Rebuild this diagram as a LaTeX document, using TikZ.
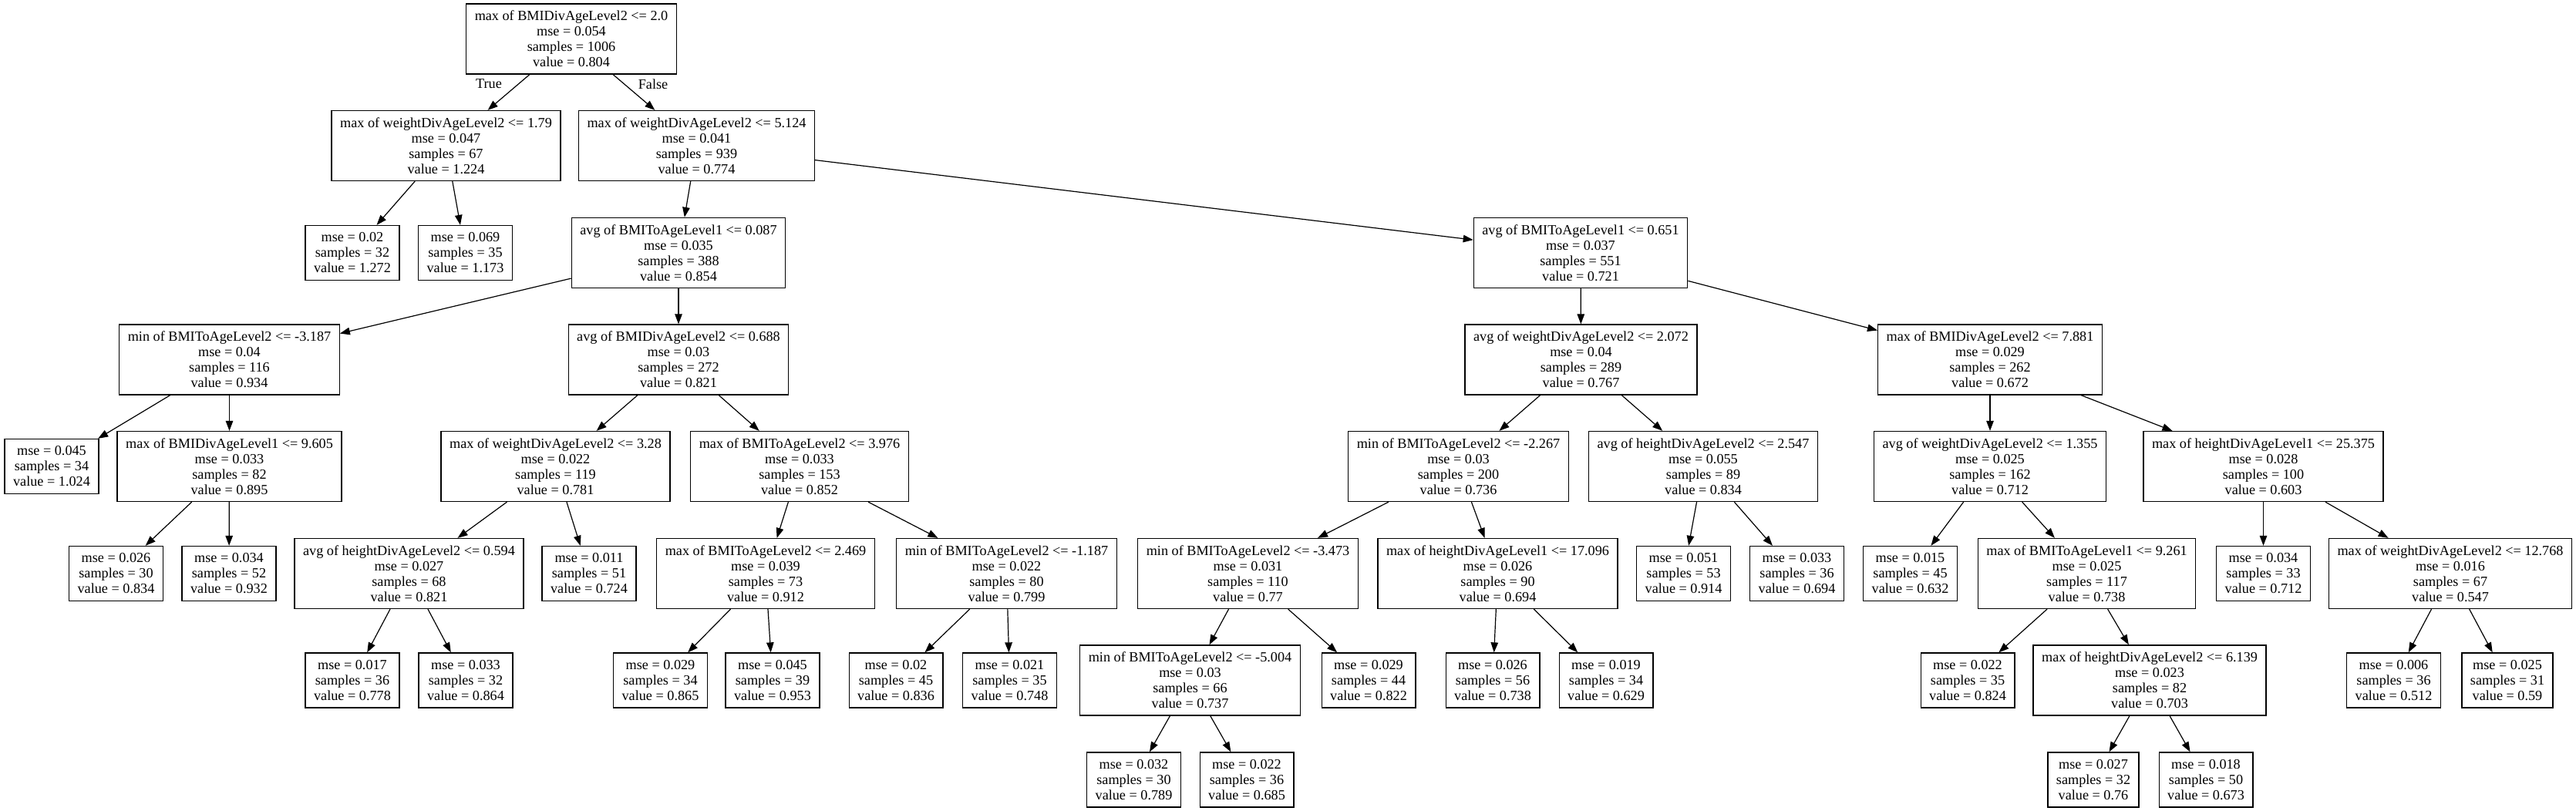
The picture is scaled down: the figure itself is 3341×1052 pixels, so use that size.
\documentclass[tikz,border=0pt]{standalone}
\usepackage{fontspec}
\setmainfont{Liberation Serif}
\usetikzlibrary{arrows.meta}
\tikzset{
     split node/.style={draw, rectangle, line width=1.3pt, align=center,
        font=\fontsize{18.2}{20}\selectfont, inner xsep=11pt, inner ysep=0pt,
        minimum height=91pt},
     leaf node/.style={split node, minimum height=71pt},
     treeedge/.style = {black, line width=1.2pt, -{Triangle[length=13pt,width=9.5pt]}},
     branch label/.style={font=\fontsize{18.2}{20}\selectfont, inner sep=0pt},
    }

\begin{document}
\begin{tikzpicture}[x=1pt,y=-1pt]
        \useasboundingbox (0,0) rectangle (3341,1052);
        % level 0 and 1
        \node [split node] (n0) at (741,50.5)  {max of BMIDivAgeLevel2 <= 2.0\\mse = 0.054\\samples = 1006\\value = 0.804};
        \node [split node] (n1) at (578.5,189) {max of weightDivAgeLevel2 <= 1.79\\mse = 0.047\\samples = 67\\value = 1.224};
        \node [split node] (n2) at (903.5,189) {max of weightDivAgeLevel2 <= 5.124\\mse = 0.041\\samples = 939\\value = 0.774};
        % level 2
        \node [leaf node]  (n3) at (457,328)   {mse = 0.02\\samples = 32\\value = 1.272};
        \node [leaf node]  (n4) at (603.5,328) {mse = 0.069\\samples = 35\\value = 1.173};
        \node [split node] (n5) at (880,328)   {avg of BMIToAgeLevel1 <= 0.087\\mse = 0.035\\samples = 388\\value = 0.854};
        \node [split node] (n6) at (2050,328)  {avg of BMIToAgeLevel1 <= 0.651\\mse = 0.037\\samples = 551\\value = 0.721};
        % level 3
        \node [split node] (n7)  at (297.5,466.5) {min of BMIToAgeLevel2 <= -3.187\\mse = 0.04\\samples = 116\\value = 0.934};
        \node [split node] (n8)  at (880,466.5)   {avg of BMIDivAgeLevel2 <= 0.688\\mse = 0.03\\samples = 272\\value = 0.821};
        \node [split node] (n9)  at (2050.5,466.5) {avg of weightDivAgeLevel2 <= 2.072\\mse = 0.04\\samples = 289\\value = 0.767};
        \node [split node] (n10) at (2581,466.5)  {max of BMIDivAgeLevel2 <= 7.881\\mse = 0.029\\samples = 262\\value = 0.672};
        % level 4
        \node [leaf node]  (n11) at (67,605)     {mse = 0.045\\samples = 34\\value = 1.024};
        \node [split node] (n12) at (297.5,605)  {max of BMIDivAgeLevel1 <= 9.605\\mse = 0.033\\samples = 82\\value = 0.895};
        \node [split node] (n13) at (720.5,605)  {max of weightDivAgeLevel2 <= 3.28\\mse = 0.022\\samples = 119\\value = 0.781};
        \node [split node] (n14) at (1037,605)   {max of BMIToAgeLevel2 <= 3.976\\mse = 0.033\\samples = 153\\value = 0.852};
        \node [split node] (n15) at (1891.5,605) {min of BMIToAgeLevel2 <= -2.267\\mse = 0.03\\samples = 200\\value = 0.736};
        \node [split node] (n16) at (2209,605)   {avg of heightDivAgeLevel2 <= 2.547\\mse = 0.055\\samples = 89\\value = 0.834};
        \node [split node] (n17) at (2581,605)   {avg of weightDivAgeLevel2 <= 1.355\\mse = 0.025\\samples = 162\\value = 0.712};
        \node [split node] (n18) at (2935.5,605) {max of heightDivAgeLevel1 <= 25.375\\mse = 0.028\\samples = 100\\value = 0.603};
        % level 5
        \node [leaf node]  (n19) at (150.5,744)  {mse = 0.026\\samples = 30\\value = 0.834};
        \node [leaf node]  (n20) at (297,744)    {mse = 0.034\\samples = 52\\value = 0.932};
        \node [split node] (n21) at (530.5,744)  {avg of heightDivAgeLevel2 <= 0.594\\mse = 0.027\\samples = 68\\value = 0.821};
        \node [leaf node]  (n22) at (764,744)    {mse = 0.011\\samples = 51\\value = 0.724};
        \node [split node] (n23) at (993,744)    {max of BMIToAgeLevel2 <= 2.469\\mse = 0.039\\samples = 73\\value = 0.912};
        \node [split node] (n24) at (1305.5,744) {min of BMIToAgeLevel2 <= -1.187\\mse = 0.022\\samples = 80\\value = 0.799};
        \node [split node] (n25) at (1618.5,744) {min of BMIToAgeLevel2 <= -3.473\\mse = 0.031\\samples = 110\\value = 0.77};
        \node [split node] (n26) at (1942.5,744) {max of heightDivAgeLevel1 <= 17.096\\mse = 0.026\\samples = 90\\value = 0.694};
        \node [leaf node]  (n27) at (2183.5,744) {mse = 0.051\\samples = 53\\value = 0.914};
        \node [leaf node]  (n28) at (2330.5,744) {mse = 0.033\\samples = 36\\value = 0.694};
        \node [leaf node]  (n29) at (2477.5,744) {mse = 0.015\\samples = 45\\value = 0.632};
        \node [split node] (n30) at (2706.5,744) {max of BMIToAgeLevel1 <= 9.261\\mse = 0.025\\samples = 117\\value = 0.738};
        \node [leaf node]  (n31) at (2935.5,744) {mse = 0.034\\samples = 33\\value = 0.712};
        \node [split node] (n32) at (3178,744)   {max of weightDivAgeLevel2 <= 12.768\\mse = 0.016\\samples = 67\\value = 0.547};
        % level 6
        \node [leaf node]  (n33) at (457,882.5)    {mse = 0.017\\samples = 36\\value = 0.778};
        \node [leaf node]  (n34) at (604,882.5)    {mse = 0.033\\samples = 32\\value = 0.864};
        \node [leaf node]  (n35) at (856.5,882.5)  {mse = 0.029\\samples = 34\\value = 0.865};
        \node [leaf node]  (n36) at (1002,882.5)   {mse = 0.045\\samples = 39\\value = 0.953};
        \node [leaf node]  (n37) at (1162,882.5)   {mse = 0.02\\samples = 45\\value = 0.836};
        \node [leaf node]  (n38) at (1309.5,882.5) {mse = 0.021\\samples = 35\\value = 0.748};
        \node [split node] (n39) at (1543.5,882.5) {min of BMIToAgeLevel2 <= -5.004\\mse = 0.03\\samples = 66\\value = 0.737};
        \node [leaf node]  (n40) at (1775,882.5)   {mse = 0.029\\samples = 44\\value = 0.822};
        \node [leaf node]  (n41) at (1936,882.5)   {mse = 0.026\\samples = 56\\value = 0.738};
        \node [leaf node]  (n42) at (2083,882.5)   {mse = 0.019\\samples = 34\\value = 0.629};
        \node [leaf node]  (n43) at (2552,882.5)   {mse = 0.022\\samples = 35\\value = 0.824};
        \node [split node] (n44) at (2788,882.5)   {max of heightDivAgeLevel2 <= 6.139\\mse = 0.023\\samples = 82\\value = 0.703};
        \node [leaf node]  (n45) at (3104.5,882.5) {mse = 0.006\\samples = 36\\value = 0.512};
        \node [leaf node]  (n46) at (3252,882.5)   {mse = 0.025\\samples = 31\\value = 0.59};
        % level 7
        \node [leaf node]  (n47) at (1470.5,1011.5) {mse = 0.032\\samples = 30\\value = 0.789};
        \node [leaf node]  (n48) at (1617,1011.5)   {mse = 0.022\\samples = 36\\value = 0.685};
        \node [leaf node]  (n49) at (2715,1011.5)   {mse = 0.027\\samples = 32\\value = 0.76};
        \node [leaf node]  (n50) at (2861,1011.5)   {mse = 0.018\\samples = 50\\value = 0.673};

        \node [branch label] (ltrue)  at (634,109) {True};
        \node [branch label] (lfalse) at (847,109) {False};

        \path[treeedge]
        (n0) edge (n1)   (n0) edge (n2)
        (n1) edge (n3)   (n1) edge (n4)
        (n2) edge (n5)   (n2) edge (n6)
        (n5) edge (n7)   (n5) edge (n8)
        (n6) edge (n9)   (n6) edge (n10)
        (n7) edge (n11)  (n7) edge (n12)
        (n8) edge (n13)  (n8) edge (n14)
        (n9) edge (n15)  (n9) edge (n16)
        (n10) edge (n17) (n10) edge (n18)
        (n12) edge (n19) (n12) edge (n20)
        (n13) edge (n21) (n13) edge (n22)
        (n14) edge (n23) (n14) edge (n24)
        (n15) edge (n25) (n15) edge (n26)
        (n16) edge (n27) (n16) edge (n28)
        (n17) edge (n29) (n17) edge (n30)
        (n18) edge (n31) (n18) edge (n32)
        (n21) edge (n33) (n21) edge (n34)
        (n23) edge (n35) (n23) edge (n36)
        (n24) edge (n37) (n24) edge (n38)
        (n25) edge (n39) (n25) edge (n40)
        (n26) edge (n41) (n26) edge (n42)
        (n30) edge (n43) (n30) edge (n44)
        (n32) edge (n45) (n32) edge (n46)
        (n39) edge (n47) (n39) edge (n48)
        (n44) edge (n49) (n44) edge (n50);
    \end{tikzpicture}
\end{document}
